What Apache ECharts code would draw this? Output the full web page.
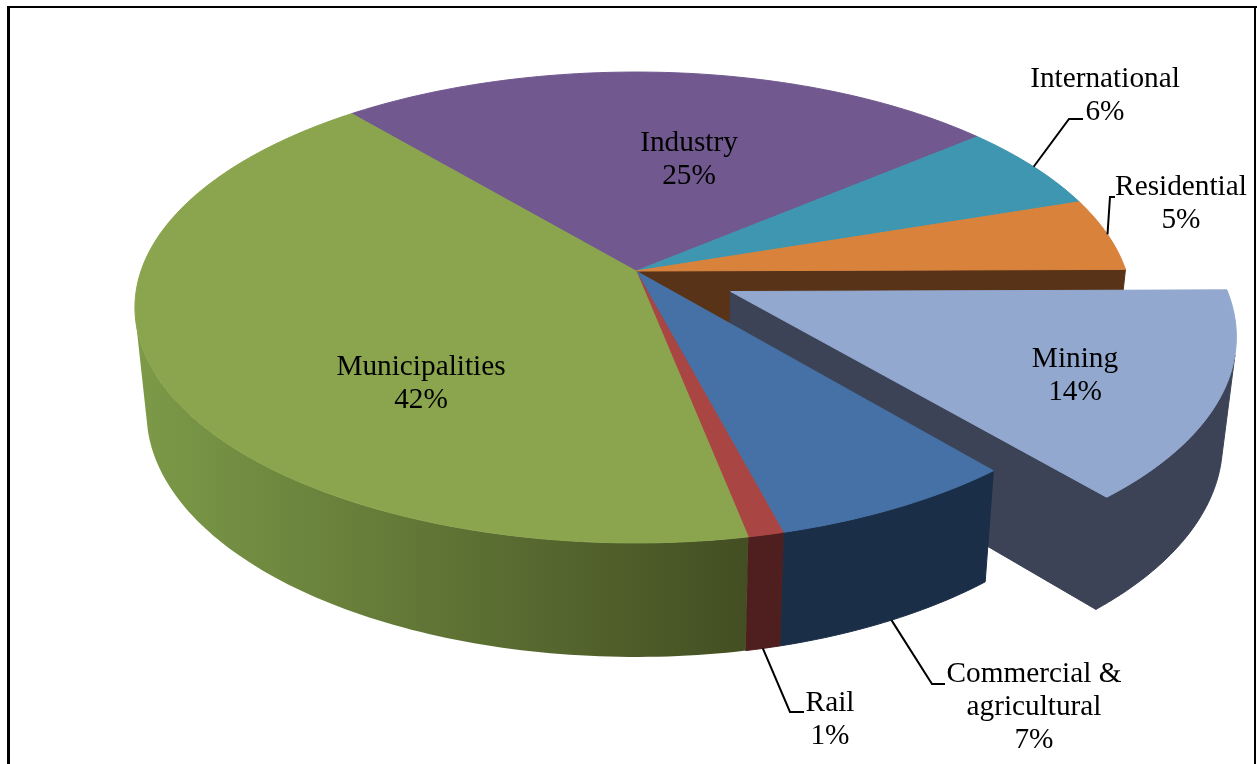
<!DOCTYPE html>
<html>
<head>
<meta charset="utf-8">
<style>html,body{margin:0;padding:0;background:#fff}#chart{width:1257px;height:764px}</style>
<script src="https://cdn.jsdelivr.net/npm/echarts@6/dist/echarts.min.js"></script>
</head>
<body>
<div id="chart"></div>
<script>
// Water use by sector, clockwise from the Industry slice.
const categories = ['Industry', 'International', 'Residential', 'Mining', 'Commercial &\nagricultural', 'Rail', 'Municipalities'];
const values = [25, 6, 5, 14, 7, 1, 42];
const exploded = [0, 0, 0, 0.21, 0, 0, 0];

const topColors = ['#71588f', '#3f96b0', '#d8823c', '#92a8cf', '#4571a6', '#a94542', '#8aa54e'];
const wallColors = ['#4a3a5e', '#2a6375', '#583318', '#3c4356', '#1b2e47', '#4f1f1f', null];
const wallGradient = ['#7c9a48', '#434e22'];

// Label centres and leader elbows, indexed like categories.
const labelCentres = [[689, 160], [1105, 96], [1181, 204], [1075, 376], [1034, 707], [830, 720], [421, 384]];
const leaderElbows = [null, [[1069, 119], [1083, 119]], [[1110, 197], [1115, 197]], null, [[932, 684], [945, 684]], [[790, 712], [804, 712]], null];

// Perspective projection of the unit disc onto the page.
const CX = 636, CY = 271, RX_LEFT = 495, RX_RIGHT = 490, RY = 229.8, TILT = 0.155;
const START_ANGLE = -40;
const WALL_SCALE = 0.977, WALL_DEPTH = 114, WALL_SLOPE = 0.04, WALL_REF_Y = 543;
// Rim angles where the silhouette of the solid turns from front to back.
const WALL_FROM = 105, WALL_TO = 257;
const FONT_SIZE = 29.3, LINE_HEIGHT = 33;

const total = values.reduce((a, b) => a + b, 0);
const startAngles = [];
values.reduce((acc, v, i) => { startAngles[i] = acc; return acc + v / total * 360; }, START_ANGLE);

function discPoint(deg, radius, explode, midDeg) {
  const a = deg * Math.PI / 180, m = midDeg * Math.PI / 180;
  const X = radius * Math.sin(a) + explode * Math.sin(m);
  const Y = -radius * Math.cos(a) - explode * Math.cos(m);
  const w = 1 / (1 - TILT * Y);
  return [CX + (X < 0 ? RX_LEFT : RX_RIGHT) * X * w, CY + RY * Y * w];
}
function sink(p) {
  return [CX + (p[0] - CX) * WALL_SCALE, p[1] + WALL_DEPTH - WALL_SLOPE * (WALL_REF_Y - p[1])];
}
function arc(from, to, explode, midDeg) {
  const pts = [], n = Math.max(2, Math.ceil(Math.abs(to - from)));
  for (let k = 0; k <= n; k++) pts.push(discPoint(from + (to - from) * k / n, 1, explode, midDeg));
  return pts;
}
function face(points, fill) {
  return { type: 'polygon', shape: { points }, style: { fill, stroke: typeof fill === 'string' ? fill : null, lineWidth: 1 } };
}

function renderSlice(params) {
  const i = params.dataIndex;
  const from = startAngles[i], to = from + values[i] / total * 360, mid = (from + to) / 2;
  const ex = exploded[i];
  const wall = wallColors[i] || {
    type: 'linear', x: 0, y: 0, x2: 1, y2: 0,
    colorStops: [{ offset: 0, color: wallGradient[0] }, { offset: 1, color: wallGradient[1] }]
  };
  const children = [];
  const apex = discPoint(0, 0, ex, mid);

  // Cut face along the trailing edge, shown where the next slice has been pulled out.
  if (ex || exploded[(i + 1) % values.length]) {
    const rim = discPoint(to, 1, ex, mid);
    children.push(face([apex, rim, sink(rim), sink(apex)], wall));
  }
  // Outer wall for the part of the rim that faces the viewer.
  const wf = Math.max(from, WALL_FROM), wt = Math.min(to, WALL_TO);
  if (wt > wf) {
    const rim = arc(wf, wt, ex, mid);
    children.push(face(rim.concat(rim.map(sink).reverse()), wall));
  }
  // Top surface.
  children.push(face([apex].concat(arc(from, to, ex, mid)), topColors[i]));

  // Leader line from the rim to the label.
  if (leaderElbows[i]) {
    let rimPt = discPoint(mid, 1, ex, mid);
    if (mid > 90 && mid < 270) rimPt = sink(rimPt);
    children.push({
      type: 'polyline', z2: 20, shape: { points: [rimPt].concat(leaderElbows[i]) },
      style: { fill: null, stroke: '#000', lineWidth: 2 }
    });
  }
  // Name and share.
  children.push({
    type: 'text', z2: 30, x: labelCentres[i][0], y: labelCentres[i][1],
    style: {
      text: categories[i] + '\n' + values[i] + '%',
      fill: '#000', align: 'center', verticalAlign: 'middle',
      font: FONT_SIZE + 'px "Liberation Serif"', lineHeight: LINE_HEIGHT
    }
  });
  return { type: 'group', children };
}

const chart = echarts.init(document.getElementById('chart'), null, { renderer: 'canvas' });
chart.setOption({
  animation: false,
  backgroundColor: '#fff',
  graphic: [
    { type: 'rect', shape: { x: 7, y: 6, width: 3, height: 758 }, style: { fill: '#000' } },
    { type: 'rect', shape: { x: 7, y: 6, width: 1250, height: 2 }, style: { fill: '#000' } },
    { type: 'rect', shape: { x: 1254, y: 6, width: 2, height: 758 }, style: { fill: '#000' } }
  ],
  series: [{
    type: 'custom',
    coordinateSystem: 'none',
    silent: true,
    renderItem: renderSlice,
    data: values
  }]
});
</script>
</body>
</html>
